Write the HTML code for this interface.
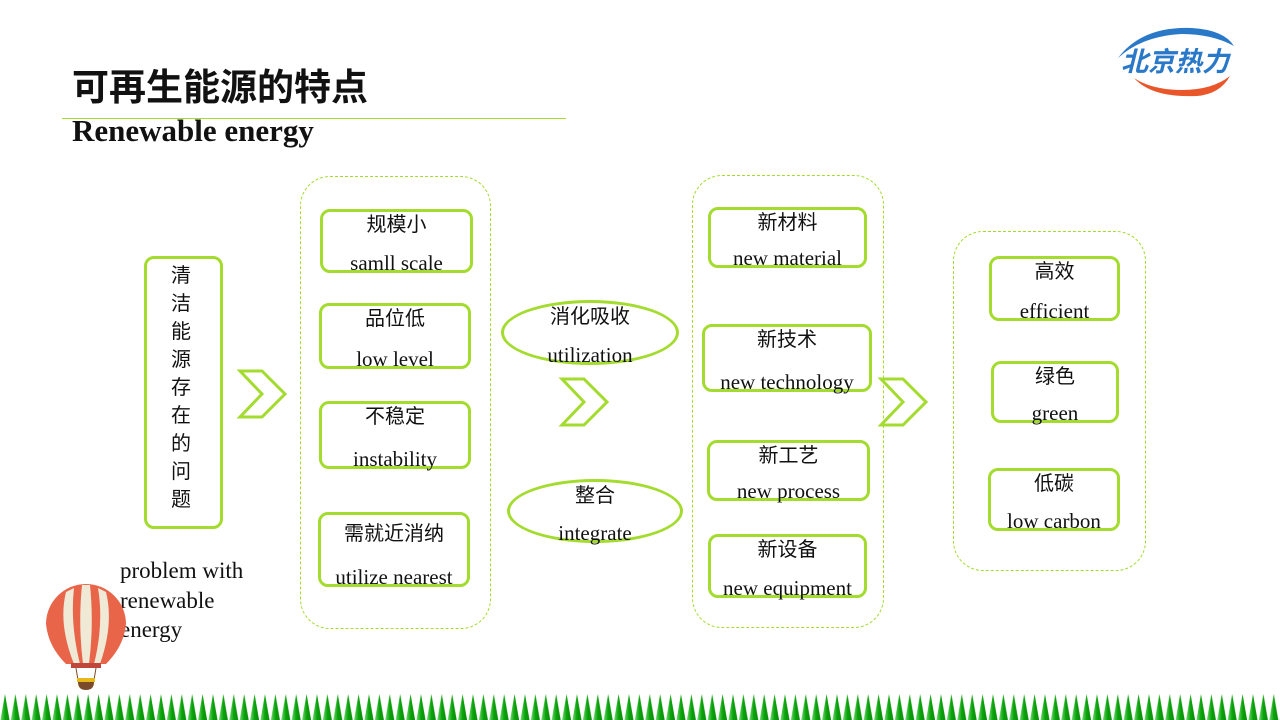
<!DOCTYPE html>
<html><head><meta charset="utf-8"><style>
body{margin:0;width:1280px;height:720px;position:relative;background:#fff;overflow:hidden;font-family:"Liberation Serif","Noto Serif CJK SC",serif;color:#111}
.a{position:absolute}
.b{position:absolute;border:3px solid #a3db2e;border-radius:10px;box-sizing:border-box}
.cn{position:absolute;left:0;right:0;text-align:center;top:0;font-family:"Liberation Sans","Noto Sans CJK SC",sans-serif;font-size:20px;line-height:26px}
.en{position:absolute;left:-10px;right:-10px;text-align:center;bottom:-4px;font-size:21px;line-height:22px;white-space:nowrap}
.c{position:absolute;border:1.5px dashed #a3db2e;border-radius:30px;box-sizing:border-box}
.e{position:absolute;border:3px solid #a3db2e;border-radius:50%;box-sizing:border-box}
</style></head><body>
<div class="a" style="left:72px;top:66px;font-family:'Liberation Sans','Noto Sans CJK SC',sans-serif;font-weight:bold;font-size:37px;line-height:44px">可再生能源的特点</div>
<div class="a" style="left:62px;top:118px;width:504px;height:1px;background:#a3db2e"></div>
<div class="a" style="left:72px;top:113px;font-weight:bold;font-size:31px;line-height:36px">Renewable energy</div>

<svg class="a" style="left:1112px;top:24px" width="126" height="76" viewBox="0 0 126 76">
<path d="M6 34 Q30 2 80 4 Q112 6 122 22 Q100 10 70 10 Q30 12 6 34Z" fill="#2a78c8"/>
<path d="M22 54 Q40 74 85 72 Q108 70 118 52 Q100 66 70 66 Q40 66 22 54Z" fill="#e8562a"/>
<text x="63" y="47" text-anchor="middle" font-family="Noto Sans CJK SC,sans-serif" font-weight="bold" font-style="italic" font-size="27" fill="#2a78c8">北京热力</text>
</svg>

<div class="b" style="left:144px;top:256px;width:79px;height:273px"></div>
<div class="a" style="left:167px;top:262px;width:28px;font-family:'Liberation Sans','Noto Sans CJK SC',sans-serif;font-size:20px;line-height:28px;text-align:center">清<br>洁<br>能<br>源<br>存<br>在<br>的<br>问<br>题</div>
<div class="a" style="left:120px;top:556px;font-size:23px;line-height:29.5px">problem with<br>renewable<br>energy</div>

<svg class="a" style="left:44px;top:584px" width="84" height="108">
<path d="M2 40 A40 40 0 0 1 82 40 Q80 62 62 80 L22 80 Q4 62 2 40Z" fill="#e8654a"/>
<path d="M22 8 Q14 40 30 80 L36 80 Q26 40 30 4Z M54 4 Q60 40 50 80 L56 80 Q70 40 62 8Z M38 1 L46 1 Q50 40 45 80 L39 80 Q34 40 38 1Z" fill="#efe9d6"/>
<rect x="27" y="79" width="30" height="5" fill="#c0453a"/>
<line x1="32" y1="84" x2="34" y2="96" stroke="#7a4a2a"/><line x1="52" y1="84" x2="50" y2="96" stroke="#7a4a2a"/>
<rect x="33" y="94" width="18" height="4" fill="#e8b81a"/>
<path d="M34 98 L50 98 Q50 106 42 106 Q34 106 34 98Z" fill="#7a4a2a"/>
</svg>

<svg class="a" style="left:236px;top:368px" width="54" height="54"><polygon points="4,3 26,3 49,26 26,49 4,49 26,26" fill="none" stroke="#a3db2e" stroke-width="3"/></svg>
<svg class="a" style="left:558px;top:376px" width="54" height="54"><polygon points="4,3 26,3 49,26 26,49 4,49 26,26" fill="none" stroke="#a3db2e" stroke-width="3"/></svg>
<svg class="a" style="left:877px;top:376px" width="54" height="54"><polygon points="4,3 26,3 49,26 26,49 4,49 26,26" fill="none" stroke="#a3db2e" stroke-width="3"/></svg>

<div class="c" style="left:300px;top:176px;width:191px;height:453px"></div>
<div class="b" style="left:320px;top:209px;width:153px;height:64px"><div class="cn">规模小</div><div class="en">samll scale</div></div>
<div class="b" style="left:319px;top:303px;width:152px;height:66px"><div class="cn">品位低</div><div class="en">low level</div></div>
<div class="b" style="left:319px;top:401px;width:152px;height:68px"><div class="cn">不稳定</div><div class="en">instability</div></div>
<div class="b" style="left:318px;top:512px;width:152px;height:75px"><div class="cn" style="top:6px">需就近消纳</div><div class="en">utilize nearest</div></div>

<div class="e" style="left:501px;top:300px;width:178px;height:65px"><div class="cn" style="top:1px">消化吸收</div><div class="en" style="bottom:-4px">utilization</div></div>
<div class="e" style="left:507px;top:479px;width:176px;height:64px"><div class="cn" style="top:1px">整合</div><div class="en" style="bottom:-4px">integrate</div></div>

<div class="c" style="left:692px;top:175px;width:192px;height:453px"></div>
<div class="b" style="left:708px;top:207px;width:159px;height:61px"><div class="cn">新材料</div><div class="en">new material</div></div>
<div class="b" style="left:702px;top:324px;width:170px;height:68px"><div class="cn">新技术</div><div class="en">new technology</div></div>
<div class="b" style="left:707px;top:440px;width:163px;height:61px"><div class="cn">新工艺</div><div class="en">new process</div></div>
<div class="b" style="left:708px;top:534px;width:159px;height:64px"><div class="cn">新设备</div><div class="en">new equipment</div></div>

<div class="c" style="left:953px;top:231px;width:193px;height:340px"></div>
<div class="b" style="left:989px;top:256px;width:131px;height:65px"><div class="cn">高效</div><div class="en">efficient</div></div>
<div class="b" style="left:991px;top:361px;width:128px;height:62px"><div class="cn">绿色</div><div class="en">green</div></div>
<div class="b" style="left:988px;top:468px;width:132px;height:63px"><div class="cn">低碳</div><div class="en">low carbon</div></div>

<svg class="a" style="left:0;top:694px" width="1280" height="26">
<defs><linearGradient id="g" x1="0" x2="1"><stop offset="0" stop-color="#6fd86f"/><stop offset=".5" stop-color="#0aa30a"/><stop offset="1" stop-color="#0a8a0a"/></linearGradient>
<pattern id="p" width="10.4" height="26" patternUnits="userSpaceOnUse"><polygon points="0.5,26 5,0 9.5,26" fill="url(#g)"/></pattern></defs>
<rect width="1280" height="26" fill="url(#p)"/>
</svg>
</body></html>
